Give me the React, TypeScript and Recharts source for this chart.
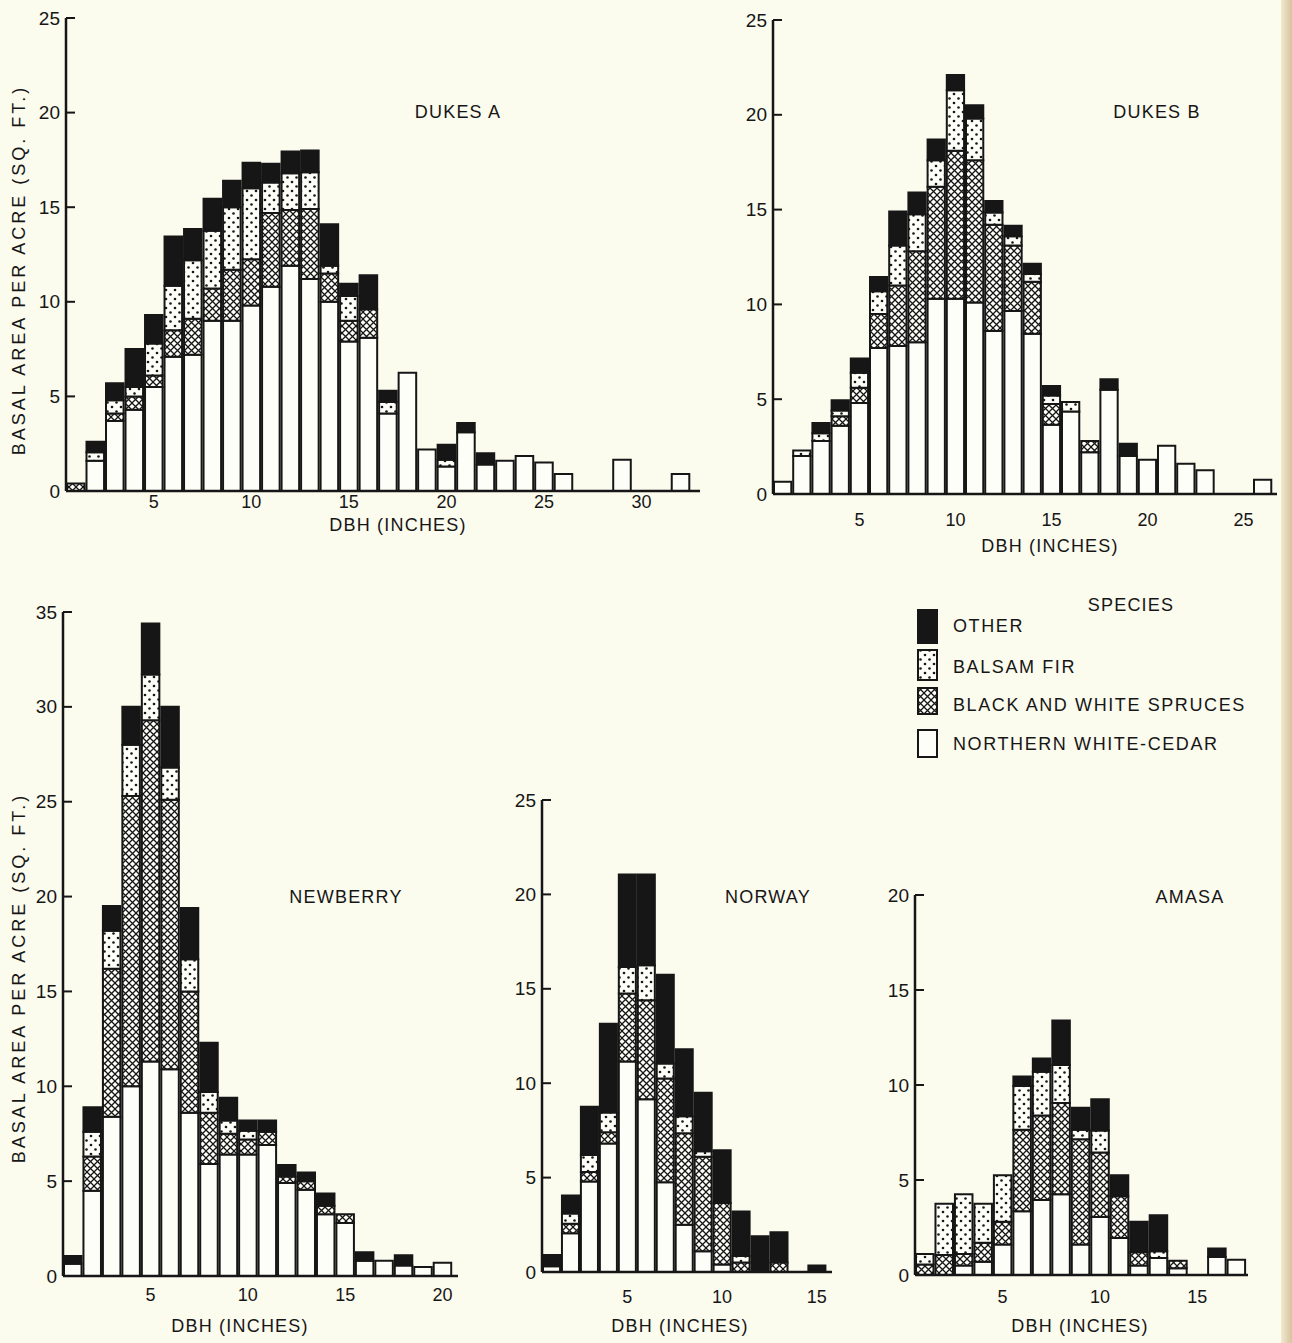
import React from "react";
import { BarChart, Bar, XAxis, YAxis } from "recharts";

// basal area (sq. ft. per acre) by 1-inch DBH class, starting at 1 inch
const dukesACedar = [0, 1.6, 3.7, 4.3, 5.5, 7.1, 7.2, 9.0, 9.0, 9.8, 10.8, 11.9, 11.2, 10.0, 7.9, 8.1, 4.1, 6.25, 2.2, 1.3, 3.1, 1.4, 1.6, 1.85, 1.5, 0.9, 0, 0, 1.65, 0, 0, 0.9];
const dukesASpruce = [0.4, 0, 0.4, 0.7, 0.6, 1.4, 1.9, 1.7, 2.7, 2.45, 3.9, 2.95, 3.7, 1.5, 1.1, 1.5, 0, 0, 0, 0, 0, 0, 0, 0, 0, 0, 0, 0, 0, 0, 0, 0];
const dukesAFir = [0, 0.45, 0.7, 0.5, 1.7, 2.35, 3.1, 3.05, 3.3, 3.75, 1.6, 1.95, 1.95, 0.4, 1.3, 0, 0.6, 0, 0, 0.35, 0, 0, 0, 0, 0, 0, 0, 0, 0, 0, 0, 0];
const dukesAOther = [0, 0.55, 0.9, 2.0, 1.5, 2.6, 1.65, 1.7, 1.4, 1.35, 1.0, 1.15, 1.15, 2.2, 0.65, 1.8, 0.6, 0, 0, 0.8, 0.5, 0.6, 0, 0, 0, 0, 0, 0, 0, 0, 0, 0];

const dukesBCedar = [0.65, 2.0, 2.8, 3.6, 4.8, 7.7, 7.8, 8.0, 10.3, 10.3, 10.1, 8.6, 9.65, 8.45, 3.65, 4.35, 2.2, 5.5, 2.0, 1.8, 2.55, 1.6, 1.25, 0, 0, 0.75];
const dukesBSpruce = [0, 0, 0, 0.5, 0.8, 1.8, 3.2, 4.8, 5.9, 7.8, 7.5, 5.6, 3.45, 2.75, 1.1, 0, 0.6, 0, 0, 0, 0, 0, 0, 0, 0, 0];
const dukesBFir = [0, 0.3, 0.4, 0.3, 0.8, 1.2, 2.1, 1.95, 1.4, 3.2, 2.2, 0.65, 0.5, 0.4, 0.45, 0.5, 0, 0, 0, 0, 0, 0, 0, 0, 0, 0];
const dukesBOther = [0, 0, 0.55, 0.55, 0.75, 0.75, 1.8, 1.15, 1.1, 0.8, 0.7, 0.6, 0.55, 0.55, 0.5, 0, 0, 0.55, 0.65, 0, 0, 0, 0, 0, 0, 0];

const newberryCedar = [0.65, 4.5, 8.4, 10.0, 11.3, 10.9, 8.6, 5.9, 6.4, 6.4, 6.9, 4.9, 4.55, 3.25, 2.8, 0.8, 0.8, 0.55, 0.47, 0.7];
const newberrySpruce = [0, 1.8, 7.8, 15.3, 18.0, 14.2, 6.4, 2.7, 1.1, 0.8, 0.7, 0.35, 0.45, 0.45, 0.45, 0, 0, 0, 0, 0];
const newberryFir = [0, 1.3, 2.0, 2.7, 2.4, 1.7, 1.7, 1.1, 0.7, 0.45, 0, 0, 0, 0, 0, 0, 0, 0, 0, 0];
const newberryOther = [0.4, 1.3, 1.3, 2.0, 2.7, 3.2, 2.7, 2.6, 1.2, 0.55, 0.6, 0.6, 0.45, 0.65, 0, 0.45, 0, 0.55, 0, 0];

const norwayCedar = [0.3, 2.05, 4.8, 6.8, 11.15, 9.15, 4.75, 2.5, 1.1, 0.4, 0, 0, 0, 0, 0];
const norwaySpruce = [0, 0.5, 0.5, 0.6, 3.6, 5.25, 5.5, 4.85, 5.0, 3.25, 0.5, 0, 0.5, 0, 0];
const norwayFir = [0, 0.55, 0.9, 1.05, 1.4, 1.85, 0.8, 0.9, 0.3, 0, 0.35, 0, 0, 0, 0];
const norwayOther = [0.6, 0.95, 2.55, 4.7, 4.9, 4.8, 4.7, 3.55, 3.1, 2.8, 2.35, 1.9, 1.6, 0, 0.35];

const amasaCedar = [0, 0, 0.5, 0.7, 1.6, 3.35, 3.95, 4.25, 1.6, 3.05, 1.95, 0.5, 0.9, 0.35, 0, 0.95, 0.8];
const amasaSpruce = [0.55, 1.05, 0.6, 1.0, 1.2, 4.3, 4.45, 4.8, 5.55, 3.4, 2.2, 0.7, 0, 0.4, 0, 0, 0];
const amasaFir = [0.55, 2.7, 3.15, 2.05, 2.45, 2.3, 2.3, 2.0, 0.5, 1.15, 0, 0, 0.35, 0, 0, 0, 0];
const amasaOther = [0, 0, 0, 0, 0, 0.5, 0.7, 2.35, 1.15, 1.65, 1.1, 1.6, 1.9, 0, 0, 0.45, 0];

const speciesLabels = ["OTHER", "BALSAM FIR", "BLACK AND WHITE SPRUCES", "NORTHERN WHITE-CEDAR"];

const INK = "#161616";
const PAPER = "#fbfbee";
const FONT = "'Liberation Sans', 'DejaVu Sans', sans-serif";

const series = [
  { key: "cedar", fill: "#fefef8" },
  { key: "spruce", fill: "url(#hatch)" },
  { key: "fir", fill: "url(#dots)" },
  { key: "other", fill: INK },
];

const buildRows = (cedar: number[], spruce: number[], fir: number[], other: number[]) =>
  cedar.map((c, i) => ({ dbh: i + 1, cedar: c, spruce: spruce[i], fir: fir[i], other: other[i] }));

interface PanelProps {
  rows: ReturnType<typeof buildRows>;
  left: number;
  right: number;
  top: number;
  bottom: number;
  xMax: number;
  yMax: number;
  xTicks: number[];
  yTicks: number[];
  tickDy: number;
}

const PAD_L = 60;
const PAD_T = 14;
const PAD_B = 40;
const PAD_R = 6;

const Histogram: React.FC<PanelProps> = ({ rows, left, right, top, bottom, xMax, yMax, xTicks, yTicks, tickDy }) => {
  const plotW = right - left;
  const plotH = bottom - top;
  const unit = plotW / (xMax - 0.5);

  const xTick = ({ x, y, payload }: any) => (
    <text x={x} y={y + tickDy} textAnchor="middle" dominantBaseline="central" fontSize={18} fill={INK} fontFamily={FONT}>
      {payload.value}
    </text>
  );
  const yTick = ({ x, y, payload }: any) => (
    <g>
      <line x1={x} x2={x + 9} y1={y} y2={y} stroke={INK} strokeWidth={2} />
      <text x={x - 6} y={y} textAnchor="end" dominantBaseline="central" fontSize={19} fill={INK} fontFamily={FONT}>
        {payload.value}
      </text>
    </g>
  );

  return (
    <div style={{ position: "absolute", left: left - PAD_L, top: top - PAD_T }}>
      <BarChart
        width={plotW + PAD_L + PAD_R}
        height={plotH + PAD_T + PAD_B}
        data={rows}
        margin={{ top: PAD_T, right: PAD_R, bottom: 0, left: 0 }}
        barCategoryGap={0}
        barGap={0}
      >
        <XAxis
          dataKey="dbh"
          type="number"
          domain={[0.5, xMax]}
          ticks={xTicks}
          allowDataOverflow
          interval={0}
          height={PAD_B}
          tick={xTick}
          tickLine={false}
          tickSize={0}
          tickMargin={0}
          axisLine={{ stroke: INK, strokeWidth: 2.5 }}
        />
        <YAxis
          type="number"
          domain={[0, yMax]}
          ticks={yTicks}
          allowDataOverflow
          interval={0}
          width={PAD_L}
          tick={yTick}
          tickLine={false}
          tickSize={0}
          tickMargin={0}
          axisLine={{ stroke: INK, strokeWidth: 2.5 }}
        />
        {series.map((s) => (
          <Bar
            key={s.key}
            dataKey={s.key}
            stackId="dbh"
            fill={s.fill}
            stroke={INK}
            strokeWidth={2}
            barSize={unit}
            isAnimationActive={false}
          />
        ))}
      </BarChart>
    </div>
  );
};

const txt = { fontFamily: FONT, fontSize: 18, fill: INK, letterSpacing: 1.2 } as const;
const yTitle = "BASAL AREA PER ACRE (SQ. FT.)";

export default function App() {
  return (
    <div style={{ position: "absolute", left: 0, top: 0, width: 1292, height: 1343, background: PAPER, overflow: "hidden" }}>
      <svg width={0} height={0} style={{ position: "absolute" }}>
        <defs>
          <pattern id="hatch" patternUnits="userSpaceOnUse" width={7} height={7}>
            <rect width={7} height={7} fill="#fefef8" />
            <path d="M-1,-1 L8,8 M8,-1 L-1,8" stroke={INK} strokeWidth={1.3} />
          </pattern>
          <pattern id="dots" patternUnits="userSpaceOnUse" width={9} height={9}>
            <rect width={9} height={9} fill="#fefef8" />
            <circle cx={2.5} cy={2.5} r={1.3} fill={INK} />
            <circle cx={7} cy={7} r={1.3} fill={INK} />
          </pattern>
        </defs>
      </svg>

      <div style={{ position: "absolute", left: 1281, top: 0, width: 11, height: 1343, background: "linear-gradient(90deg, #f1ead2, #d6c39b)" }} />

      <Histogram rows={buildRows(dukesACedar, dukesASpruce, dukesAFir, dukesAOther)} left={66} right={700} top={18} bottom={491} xMax={33} yMax={25} xTicks={[5, 10, 15, 20, 25, 30]} yTicks={[0, 5, 10, 15, 20, 25]} tickDy={11} />
      <Histogram rows={buildRows(dukesBCedar, dukesBSpruce, dukesBFir, dukesBOther)} left={773} right={1277} top={20} bottom={494} xMax={26.75} yMax={25} xTicks={[5, 10, 15, 20, 25]} yTicks={[0, 5, 10, 15, 20, 25]} tickDy={26} />
      <Histogram rows={buildRows(newberryCedar, newberrySpruce, newberryFir, newberryOther)} left={63} right={458} top={612} bottom={1276} xMax={20.8} yMax={35} xTicks={[5, 10, 15, 20]} yTicks={[0, 5, 10, 15, 20, 25, 30, 35]} tickDy={19} />
      <Histogram rows={buildRows(norwayCedar, norwaySpruce, norwayFir, norwayOther)} left={542} right={832} top={800} bottom={1272} xMax={15.8} yMax={25} xTicks={[5, 10, 15]} yTicks={[0, 5, 10, 15, 20, 25]} tickDy={25} />
      <Histogram rows={buildRows(amasaCedar, amasaSpruce, amasaFir, amasaOther)} left={915} right={1248} top={895} bottom={1275} xMax={17.6} yMax={20} xTicks={[5, 10, 15]} yTicks={[0, 5, 10, 15, 20]} tickDy={22} />

      <svg width={1292} height={1343} style={{ position: "absolute", left: 0, top: 0, pointerEvents: "none" }}>
        <text x={458} y={112} textAnchor="middle" dominantBaseline="central" {...txt}>DUKES A</text>
        <text x={1157} y={112} textAnchor="middle" dominantBaseline="central" {...txt}>DUKES B</text>
        <text x={346} y={897} textAnchor="middle" dominantBaseline="central" {...txt}>NEWBERRY</text>
        <text x={768} y={897} textAnchor="middle" dominantBaseline="central" {...txt}>NORWAY</text>
        <text x={1190} y={897} textAnchor="middle" dominantBaseline="central" {...txt}>AMASA</text>

        <text x={398} y={525} textAnchor="middle" dominantBaseline="central" {...txt}>DBH (INCHES)</text>
        <text x={1050} y={546} textAnchor="middle" dominantBaseline="central" {...txt}>DBH (INCHES)</text>
        <text x={240} y={1326} textAnchor="middle" dominantBaseline="central" {...txt}>DBH (INCHES)</text>
        <text x={680} y={1326} textAnchor="middle" dominantBaseline="central" {...txt}>DBH (INCHES)</text>
        <text x={1080} y={1326} textAnchor="middle" dominantBaseline="central" {...txt}>DBH (INCHES)</text>

        <text transform="translate(19,270) rotate(-90)" textAnchor="middle" dominantBaseline="central" {...txt} letterSpacing={3}>{yTitle}</text>
        <text transform="translate(19,978) rotate(-90)" textAnchor="middle" dominantBaseline="central" {...txt} letterSpacing={3}>{yTitle}</text>

        <text x={1131} y={605} textAnchor="middle" dominantBaseline="central" {...txt}>SPECIES</text>
        <rect x={918} y={610} width={19} height={33} fill={INK} stroke={INK} strokeWidth={2} />
        <rect x={918} y={650} width={19} height={30} fill="url(#dots)" stroke={INK} strokeWidth={2} />
        <rect x={918} y={688} width={19} height={26} fill="url(#hatch)" stroke={INK} strokeWidth={2} />
        <rect x={918} y={730} width={19} height={27} fill="#fefef8" stroke={INK} strokeWidth={2} />
        {speciesLabels.map((label, i) => (
          <text key={label} x={953} y={[626, 667, 705, 744][i]} dominantBaseline="central" {...txt} letterSpacing={1.6}>
            {label}
          </text>
        ))}
      </svg>
    </div>
  );
}
